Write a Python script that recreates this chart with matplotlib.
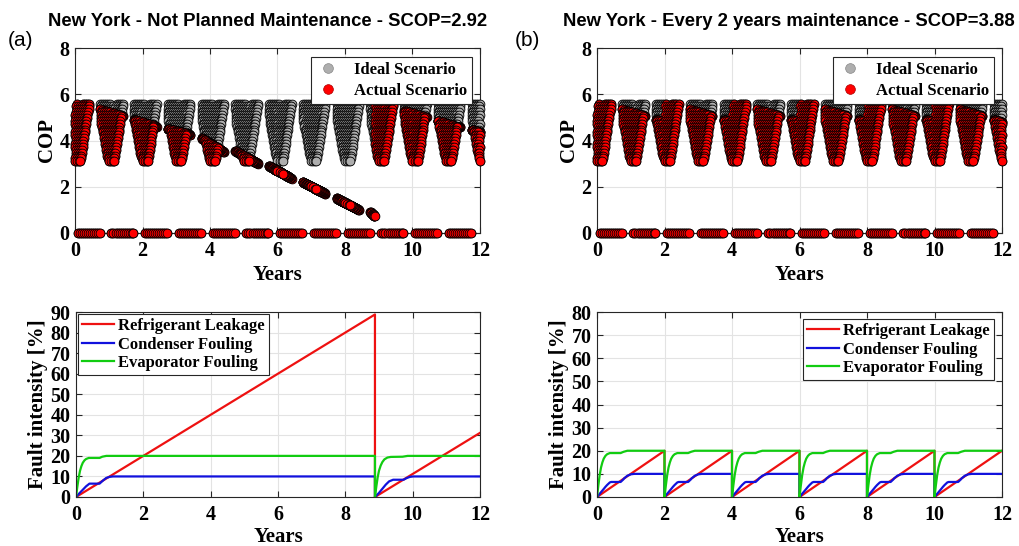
import numpy as np
import matplotlib
matplotlib.use("Agg")
import matplotlib.pyplot as plt
from matplotlib.lines import Line2D
from matplotlib.font_manager import FontProperties

# ------------------------------------------------------------------
# DATA
# ------------------------------------------------------------------
# One heating season of the ideal COP, repeated every year (same weather file).
# Each row: COP level and the time offsets (years, relative to season year start)
season_row_cop = [5.6, 5.475, 5.35, 5.225, 5.1, 4.975, 4.85, 4.725, 4.6, 4.475, 4.35,
                  4.225, 4.1, 3.975, 3.85, 3.725, 3.6, 3.475, 3.35, 3.225, 3.1]
season_row_offsets = [
    [0.75, 0.81, 0.87, 0.93, 0.99, 1.05, 1.23, 1.29, 1.35, 1.42],
    [0.78, 0.84, 0.90, 0.96, 1.02, 1.08, 1.14, 1.20, 1.26, 1.32, 1.38, 1.41],
    [0.75, 0.81, 0.87, 0.93, 0.99, 1.05, 1.11, 1.17, 1.23, 1.29, 1.35, 1.40],
    [0.76, 0.79, 0.85, 0.91, 0.97, 1.03, 1.09, 1.15, 1.21, 1.27, 1.33, 1.385],
    [0.76, 0.82, 0.88, 0.94, 1.00, 1.06, 1.12, 1.18, 1.24, 1.30, 1.37],
    [0.77, 0.80, 0.86, 0.92, 0.98, 1.04, 1.10, 1.16, 1.22, 1.28, 1.34, 1.355],
    [0.77, 0.83, 0.89, 0.95, 1.01, 1.07, 1.13, 1.19, 1.25, 1.31, 1.34],
    [0.785, 0.82, 0.88, 0.94, 1.00, 1.06, 1.12, 1.18, 1.24, 1.30, 1.325],
    [0.80, 0.86, 0.92, 0.98, 1.04, 1.10, 1.16, 1.22, 1.28, 1.31],
    [0.815, 0.85, 0.91, 0.97, 1.03, 1.09, 1.15, 1.21, 1.27, 1.30],
    [0.83, 0.89, 0.95, 1.01, 1.07, 1.13, 1.19, 1.25, 1.29],
    [0.845, 0.88, 0.94, 1.00, 1.06, 1.12, 1.18, 1.24, 1.275],
    [0.86, 0.92, 0.98, 1.04, 1.10, 1.16, 1.22, 1.26],
    [0.875, 0.91, 0.97, 1.03, 1.09, 1.15, 1.21, 1.25],
    [0.89, 0.95, 1.01, 1.07, 1.13, 1.19, 1.24],
    [0.905, 0.94, 1.00, 1.06, 1.12, 1.18, 1.225],
    [0.92, 0.98, 1.04, 1.10, 1.16, 1.21],
    [0.94, 0.97, 1.03, 1.09, 1.15, 1.195],
    [0.96, 1.02, 1.08, 1.14, 1.18],
    [0.98, 1.01, 1.07, 1.13, 1.165],
    [1.00, 1.06, 1.12, 1.15],
]
season_years = list(range(-1, 12))

# Hours with the heat pump off (COP = 0), offsets within each year
zero_offsets = [0.08, 0.14, 0.20, 0.26, 0.32, 0.38, 0.44, 0.50, 0.56, 0.62, 0.68, 0.73]
zero_years = list(range(0, 12))

# Upper limit of the actual COP vs. time since last maintenance (years)
cap_tau = [0.0, 0.45, 0.75, 1.42, 1.75, 2.42, 2.75, 3.42, 3.75, 4.42, 4.75, 5.42,
           5.75, 6.42, 6.75, 7.42, 7.75, 8.42, 8.75, 8.90]
cap_val = [5.6, 5.6, 5.35, 5.05, 4.9, 4.6, 4.5, 4.25, 4.1, 3.5, 3.55, 3.0,
           2.9, 2.35, 2.2, 1.7, 1.5, 1.0, 0.9, 0.7]

maint_a = [0.0, 8.88]
maint_b = [0, 2, 4, 6, 8, 10]

# Fault intensities, panel (a)
leak_a_t = [0, 8.88, 8.88, 12]
leak_a_v = [0, 88.8, 0, 31.2]
cond_a_t = [0, 0.1, 0.2, 0.3, 0.4, 0.7, 0.8, 0.9, 1.0, 1.1, 8.88, 8.88,
            9.0, 9.1, 9.2, 9.3, 9.42, 9.73, 9.82, 9.92, 10.02, 12]
cond_a_v = [0, 1.8, 3.5, 5.2, 6.5, 6.5, 8.0, 9.3, 9.8, 10, 10, 0,
            2.0, 4.0, 6.0, 7.6, 8.4, 8.4, 9.2, 9.8, 10, 10]
evap_a_t = [0, 0.04, 0.08, 0.12, 0.16, 0.2, 0.25, 0.3, 0.38, 0.7, 0.78, 0.9, 8.88, 8.88,
            8.92, 8.96, 9.0, 9.05, 9.1, 9.16, 9.25, 9.35, 9.7, 9.85, 12]
evap_a_v = [0, 5, 9.5, 12.8, 15, 16.6, 17.8, 18.5, 19, 19, 19.6, 20, 20, 0,
            5, 9.5, 12.8, 15.3, 17, 18.3, 19.2, 19.5, 19.6, 20, 20]

# Fault intensities, panel (b): one 2-year maintenance cycle
cyc_t = [0, 0.04, 0.08, 0.12, 0.16, 0.2, 0.25, 0.3, 0.38, 0.42, 0.7, 0.78, 0.8, 0.9,
         0.97, 1.0, 1.1, 2.0]
cyc_leak = [0, 0.4, 0.8, 1.2, 1.6, 2.0, 2.5, 3.0, 3.8, 4.2, 7.0, 7.8, 8.0, 9.0,
            9.7, 10.0, 11.0, 20.0]
cyc_cond = [0, 0.7, 1.4, 2.1, 2.8, 3.5, 4.4, 5.2, 6.3, 6.5, 6.5, 7.6, 8.0, 9.2,
            9.6, 9.8, 10, 10]
cyc_evap = [0, 5, 9.5, 12.8, 15, 16.6, 17.8, 18.5, 19, 19, 19, 19.5, 19.6, 20,
            20, 20, 20, 20]

titles = ["New York - Not Planned Maintenance - SCOP=2.92",
          "New York - Every 2 years maintenance - SCOP=3.88"]
panel_tags = ["(a)", "(b)"]
legend_cop = ["Ideal Scenario", "Actual Scenario"]
legend_fault = ["Refrigerant Leakage", "Condenser Fouling", "Evaporator Fouling"]

# ------------------------------------------------------------------
# Build point sets
# ------------------------------------------------------------------
ideal_t, ideal_c = [], []
for yr in season_years:
    for c, row in zip(season_row_cop, season_row_offsets):
        for o in row:
            t = yr + o
            if 0 <= t <= 12:
                ideal_t.append(t)
                ideal_c.append(c)
for yr in zero_years:
    for o in zero_offsets:
        ideal_t.append(yr + o)
        ideal_c.append(0.0)
ideal_t = np.array(ideal_t)
ideal_c = np.array(ideal_c)


def actual_cop(maint):
    m = np.array(maint, dtype=float)
    idx = np.searchsorted(m, ideal_t, side="right") - 1
    tau = ideal_t - m[idx]
    cap = np.interp(tau, cap_tau, cap_val)
    return np.minimum(ideal_c, cap)


act_a = actual_cop(maint_a)
act_b = actual_cop(maint_b)

bt, bl, bc, be = [], [], [], []
for m in maint_b:
    bt += [m + x for x in cyc_t]
    bl += cyc_leak
    bc += cyc_cond
    be += cyc_evap

# ------------------------------------------------------------------
# Figure
# ------------------------------------------------------------------
plt.rcParams["font.family"] = ["Liberation Serif", "DejaVu Serif"]

FP_TICK = FontProperties(family="Liberation Serif", weight="bold", size=14.5)
FP_LAB = FontProperties(family="Liberation Serif", weight="bold", size=15)
FP_LEG = FontProperties(family="Liberation Serif", weight="bold", size=12)
FP_TITLE = FontProperties(family="Liberation Sans", weight="bold", size=13.3)
FP_TAG = FontProperties(family="Liberation Sans", weight="normal", size=15)

W, H = 1020, 546
fig = plt.figure(figsize=(W / 100, H / 100), dpi=100)


def ax_at(x0, y0, x1, y1):
    return fig.add_axes([x0 / W, 1 - y1 / H, (x1 - x0) / W, (y1 - y0) / H])


ax_a = ax_at(75, 48, 480, 233)
ax_b = ax_at(597, 48, 1002, 233)
ax_c = ax_at(76, 312, 480, 497)
ax_d = ax_at(597, 312, 1002, 497)

EDGE = "#262626"


def style(ax, ymax, ystep, xlabpad):
    ax.set_xlim(0, 12)
    ax.set_ylim(0, ymax)
    xt = list(range(0, 13, 2))
    yt = list(range(0, ymax + 1, ystep))
    ax.set_xticks(xt, labels=[str(v) for v in xt], fontproperties=FP_TICK)
    ax.set_yticks(yt, labels=[str(v) for v in yt], fontproperties=FP_TICK)
    ax.grid(True, color="#e3e3e3", lw=0.8)
    ax.set_axisbelow(True)
    ax.tick_params(direction="in", top=True, right=True, length=4, width=0.8,
                   color=EDGE)
    ax.tick_params(axis="x", pad=6)
    ax.tick_params(axis="y", pad=4)
    for s in ax.spines.values():
        s.set_color(EDGE)
        s.set_linewidth(0.8)
    ax.set_xlabel("Years", fontproperties=FP_LAB, labelpad=xlabpad)


GRAY = "#aeaeae"
RED = "#ff0000"
for ax, act in ((ax_a, act_a), (ax_b, act_b)):
    style(ax, 8, 2, 2.5)
    ax.scatter(ideal_t, ideal_c, s=40, c=GRAY, edgecolors="black", linewidths=0.6,
               clip_on=False, zorder=3)
    ax.scatter(ideal_t, act, s=40, c=RED, edgecolors="black", linewidths=0.6,
               clip_on=False, zorder=4)
    ax.set_ylabel("COP", fontproperties=FP_LAB, labelpad=2)
    handles = [Line2D([], [], ls="none", marker="o", ms=7, mfc=GRAY, mec="#888888", mew=0.5),
               Line2D([], [], ls="none", marker="o", ms=7, mfc=RED, mec="#aa0000", mew=0.5)]
    leg = ax.legend(handles, legend_cop, loc="upper right",
                    bbox_to_anchor=(1 - 8 / 405, 1 - 9 / 185), borderaxespad=0,
                    prop=FP_LEG, frameon=True, fancybox=False, framealpha=1,
                    edgecolor=EDGE, handletextpad=0.8, borderpad=0.3,
                    labelspacing=0.3, handlelength=1.5)
    leg.get_frame().set_linewidth(0.8)
    leg.set_zorder(10)

LR, LB, LG = "#ee1111", "#1111dd", "#11cc11"
style(ax_c, 90, 10, 1)
ax_c.plot(leak_a_t, leak_a_v, color=LR, lw=1.6)
ax_c.plot(cond_a_t, cond_a_v, color=LB, lw=1.6)
ax_c.plot(evap_a_t, evap_a_v, color=LG, lw=1.6)
style(ax_d, 80, 10, 1)
ax_d.plot(bt, bl, color=LR, lw=1.6)
ax_d.plot(bt, bc, color=LB, lw=1.6)
ax_d.plot(bt, be, color=LG, lw=1.6)
for ax, anchor, loc in ((ax_c, (2 / 404, 1 - 2 / 185), "upper left"),
                        (ax_d, (1 - 8 / 405, 1 - 7 / 185), "upper right")):
    ax.set_ylabel("Fault intensity [%]", fontproperties=FP_LAB, labelpad=2)
    leg = ax.legend(legend_fault, loc=loc, bbox_to_anchor=anchor, borderaxespad=0,
                    prop=FP_LEG, frameon=True, fancybox=False, framealpha=1,
                    edgecolor=EDGE, handletextpad=0.25, borderpad=0.25,
                    labelspacing=0.15, handlelength=1.9)
    leg.get_frame().set_linewidth(0.8)

fig.text(268 / W, 1 - 21 / H, titles[0], ha="center", va="center", fontproperties=FP_TITLE)
fig.text(789 / W, 1 - 21 / H, titles[1], ha="center", va="center", fontproperties=FP_TITLE)
fig.text(8 / W, 1 - 41 / H, panel_tags[0], ha="left", va="center", fontproperties=FP_TAG)
fig.text(515 / W, 1 - 41 / H, panel_tags[1], ha="left", va="center", fontproperties=FP_TAG)

fig.savefig("out.png", dpi=100)
